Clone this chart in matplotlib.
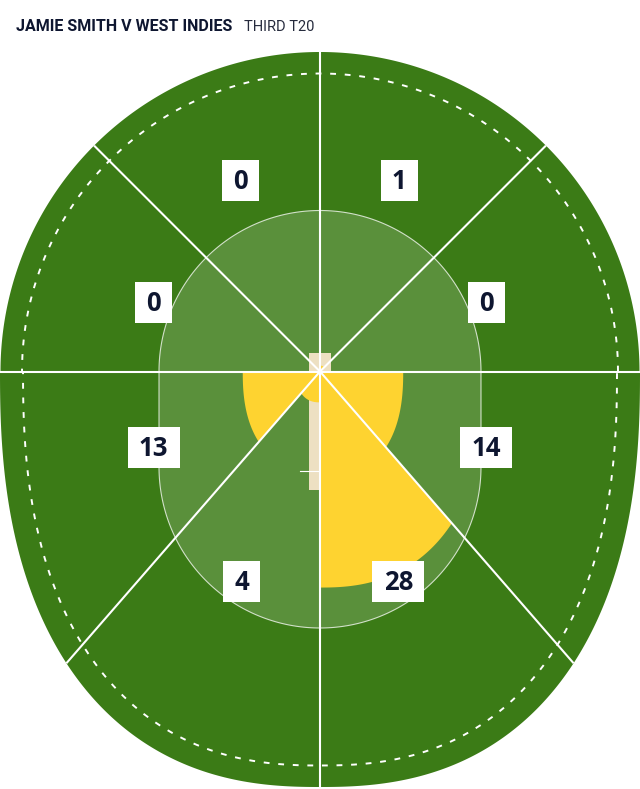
import numpy as np
import matplotlib.pyplot as plt
from matplotlib.patches import Polygon, Rectangle

# runs per scoring zone, going clockwise from straight up
zone_runs = [1, 0, 14, 28, 4, 13, 0, 0]
# zone edges (degrees, maths convention, clockwise from 12 o'clock)
zone_edges = [90, 45, 0, -49, -90, -131, -180, -225, -270]

title = "JAMIE SMITH V WEST INDIES"
subtitle = "THIRD T20"

################################################################################

W, H = 640, 789
cx, cy = 320, 371.5

dark_green = "#3b7b16"
light_green = "#5a903b"
yellow = "#fed330"
pitch_col = "#ede0c2"
navy = "#0e1630"


def boundary(phi, R=319.5, a=320.0, b=415.5, p=2.4):
    # top half is a circle, bottom half a squarish superellipse
    c, s = np.cos(phi), np.sin(phi)
    r_low = 1.0 / ((np.abs(c) / a) ** p + (np.abs(s) / b) ** p) ** (1.0 / p)
    return np.where(s >= 0, R, r_low)


def pts(phi, r):
    return np.column_stack([cx + r * np.cos(phi), cy - r * np.sin(phi)])


fig = plt.figure(figsize=(W / 100, H / 100), dpi=100)
ax = fig.add_axes([0, 0, 1, 1])
ax.set_xlim(0, W)
ax.set_ylim(H, 0)
ax.axis("off")

# field
phi = np.linspace(0, 2 * np.pi, 1441)
ax.add_patch(Polygon(pts(phi, boundary(phi)), closed=True, fc=dark_green, ec="none", zorder=1))

# rope
rope = pts(phi, boundary(phi, R=298, a=297, b=394))
ax.plot(rope[:, 0], rope[:, 1], color="white", lw=1.4, ls=(0, (3, 4.5)), zorder=2)

# inner ring (stadium shape)
r_in, y_low = 161, 467
t1 = np.linspace(0, np.pi, 200)
t2 = np.linspace(np.pi, 2 * np.pi, 200)
ring = np.vstack([
    np.column_stack([cx + r_in * np.cos(t1), cy - r_in * np.sin(t1)]),
    np.column_stack([cx + r_in * np.cos(t2), y_low - r_in * np.sin(t2)]),
])
ax.add_patch(Polygon(ring, closed=True, fc=light_green, ec=(1, 1, 1, 0.75), lw=0.8, zorder=3))

# pitch + crease
ax.add_patch(Rectangle((309, 353), 22, 137, fc=pitch_col, ec="none", zorder=4))
ax.plot([300, 340], [471, 471], color="white", lw=0.8, zorder=4)

# run wedges
scale = 0.52 / max(zone_runs)
for i, runs in enumerate(zone_runs):
    if runs == 0:
        continue
    a0, a1 = np.radians(zone_edges[i]), np.radians(zone_edges[i + 1])
    ph = np.linspace(a0, a1, 120)
    arc = pts(ph, boundary(ph) * runs * scale)
    poly = np.vstack([[cx, cy], arc])
    ax.add_patch(Polygon(poly, closed=True, fc=yellow, ec="none", zorder=5))

# zone lines
for e in zone_edges[:-1]:
    ph = np.radians(e)
    end = pts(np.array([ph]), boundary(np.array([ph])))[0]
    ax.plot([cx, end[0]], [cy, end[1]], color="white", lw=1.5,
            solid_capstyle="butt", zorder=6)

# labels, placed where the zone's mid direction meets an inner ellipse
for i, runs in enumerate(zone_runs):
    mid = np.radians((zone_edges[i] + zone_edges[i + 1]) / 2)
    c, s = np.cos(mid), np.sin(mid)
    B = 214 if s > 0 else 234
    d = 1.0 / np.sqrt((c / 176) ** 2 + (s / B) ** 2)
    lx, ly = cx + d * c, cy - d * s
    txt = str(runs)
    bw, bh = 22 + 15 * len(txt), 41
    ax.add_patch(Rectangle((lx - bw / 2, ly - bh / 2), bw, bh, fc="white", ec="none", zorder=7))
    ax.text(lx, ly + 1, txt, ha="center", va="center", fontsize=18.5,
            fontweight="bold", family="Open Sans", color=navy, zorder=8)

fig.text(16 / W, 1 - 31 / H, title, fontsize=11.5, fontweight="bold",
         family="Roboto", color=navy, ha="left", va="baseline")
fig.text(244 / W, 1 - 31 / H, subtitle, fontsize=10.5,
         family="Roboto", color="#262b3d", ha="left", va="baseline")

plt.savefig("out.png", dpi=100)
plt.close()
